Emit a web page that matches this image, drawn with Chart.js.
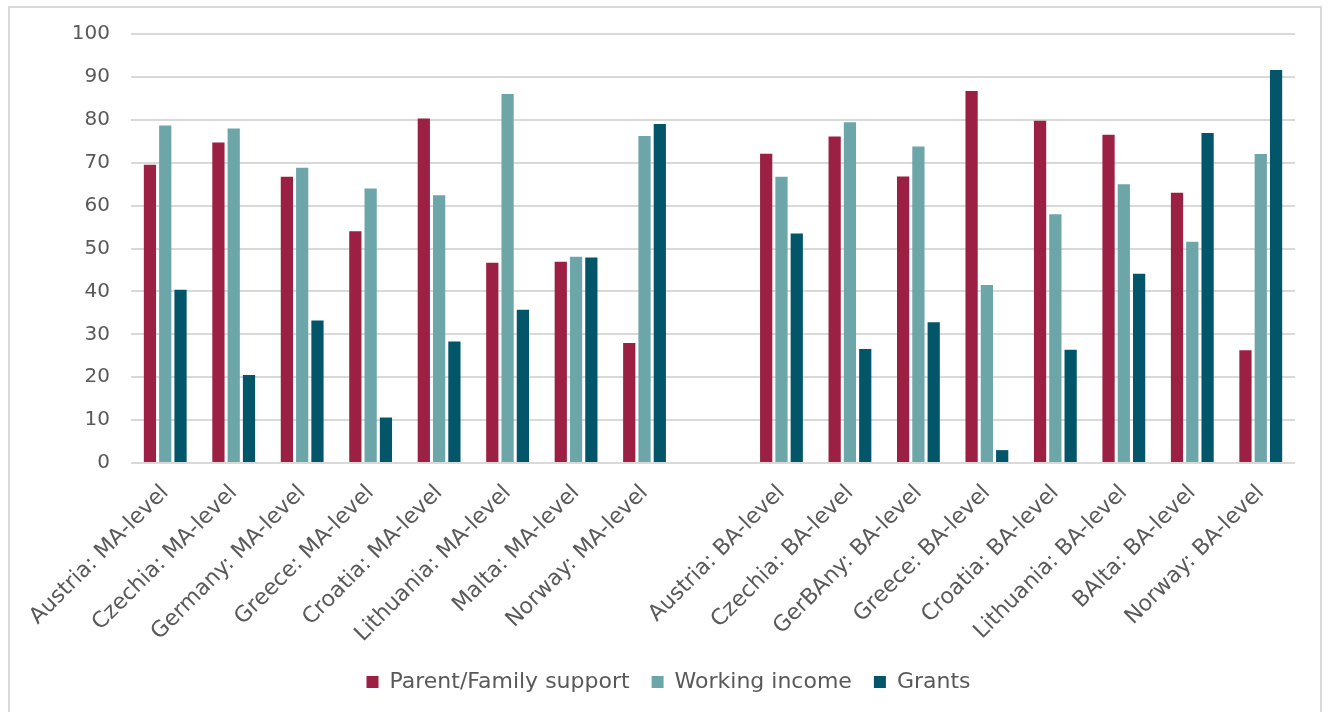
<!DOCTYPE html>
<html>
<head>
<meta charset="utf-8">
<script src="https://cdn.jsdelivr.net/npm/chart.js@4"></script>
<style>
  body { margin: 0; background: #fff; }
  .frame {
    position: absolute; left: 8px; top: 6px; width: 1314px; height: 720px;
    border: 2px solid #d9d9d9; box-sizing: border-box;
  }
  .wrap { position: absolute; left: 0; top: 0; width: 1329px; height: 712px; }
</style>
</head>
<body>
<div class="frame"></div>
<div class="wrap"><canvas id="myChart" width="1329" height="712"></canvas></div>
<script>

const categories = [
  "Austria: MA-level", "Czechia: MA-level", "Germany: MA-level", "Greece: MA-level",
  "Croatia: MA-level", "Lithuania: MA-level", "Malta: MA-level", "Norway: MA-level",
  "",
  "Austria: BA-level", "Czechia: BA-level", "GerBAny: BA-level", "Greece: BA-level",
  "Croatia: BA-level", "Lithuania: BA-level", "BAlta: BA-level", "Norway: BA-level"
];

const parentFamily = [69.5, 74.7, 66.7, 54.0, 80.3, 46.7, 46.9, 28.0, null,
                      72.1, 76.1, 66.8, 86.7, 79.8, 76.5, 63.0, 26.3];
const workingIncome = [78.7, 78.0, 68.8, 64.0, 62.4, 86.0, 48.1, 76.2, null,
                       66.7, 79.4, 73.8, 41.5, 58.0, 65.0, 51.6, 72.0];
const grants = [40.4, 20.5, 33.2, 10.6, 28.3, 35.7, 47.9, 79.0, null,
                53.5, 26.6, 32.8, 3.0, 26.4, 44.1, 76.9, 91.6];

const yTicks = [0, 10, 20, 30, 40, 50, 60, 70, 80, 90, 100];

const font = "'DejaVu Sans', Verdana, sans-serif";
const textColor = "#595959";

const bar = (label, data, color) => ({
  label: label,
  data: data,
  backgroundColor: color,
  borderWidth: 0,
  categoryPercentage: 0.67,
  barPercentage: 0.8
});

// nudge the legend row a little to the right
const legendShift = {
  id: "legendShift",
  afterLayout(chart) {
    chart.legend.left += 21;
    chart.legend.right += 21;
  }
};

const ctx = document.getElementById("myChart").getContext("2d");
const myChart = new Chart(ctx, {
  type: "bar",
  data: {
    labels: categories,
    datasets: [
      bar("Parent/Family support", parentFamily, "#9c2043"),
      bar("Working income", workingIncome, "#6da6a9"),
      bar("Grants", grants, "#03566a")
    ]
  },
  options: {
    responsive: false,
    animation: false,
    layout: { padding: { left: 0, right: 34, top: 34, bottom: 9 } },
    plugins: {
      tooltip: { enabled: false },
      legend: {
        position: "bottom",
        labels: {
          font: { family: font, size: 22 },
          color: textColor,
          boxWidth: 12,
          boxHeight: 12,
          padding: 22
        }
      }
    },
    scales: {
      x: {
        grid: { display: false, drawTicks: false },
        border: { display: false },
        ticks: {
          font: { family: font, size: 22 },
          color: textColor,
          minRotation: 45,
          maxRotation: 45,
          autoSkip: false,
          padding: 17
        },
        afterFit: (s) => { s.height = 186; }
      },
      y: {
        min: 0,
        max: 100,
        afterBuildTicks: (s) => { s.ticks = yTicks.map(v => ({ value: v })); },
        grid: { color: "#d9d9d9", lineWidth: 2, drawTicks: false },
        border: { display: false },
        ticks: {
          font: { family: font, size: 20 },
          color: textColor,
          padding: 21
        },
        afterFit: (s) => { s.width = 131; }
      }
    }
  },
  plugins: [legendShift]
});
</script>
</body>
</html>
